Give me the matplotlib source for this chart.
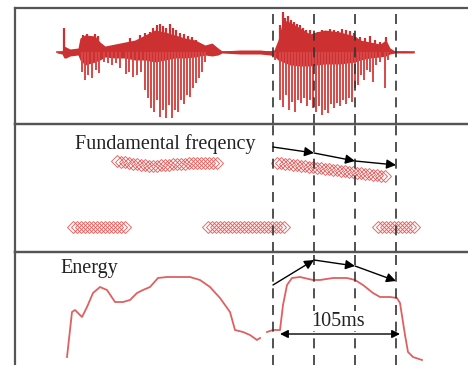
import numpy as np
import matplotlib
matplotlib.use('Agg')
import matplotlib.pyplot as plt

plt.rcParams['font.family'] = ['Liberation Serif', 'DejaVu Serif']

# x positions are analysis frames (same scale in all three panels)
# --- waveform: body envelope and individual peaks ---
body_x = [57, 62, 64, 66, 70, 78, 80, 85, 95, 100, 105, 115, 125, 135, 145, 155, 165, 175,
          185, 195, 205, 212, 218, 222, 240, 260, 270, 274, 278, 283, 290, 300, 310, 316,
          325, 340, 355, 360, 370, 380, 386, 390, 395, 405, 414]
body_hi = [0, 1, 6, 5, 3, 4, 14, 17, 16, 10, 6, 8, 10, 12, 17, 22, 20, 17,
           14, 12, 7, 9, 4, 1, 2, 2, 1, 2, 12, 32, 30, 24, 18, 20,
           22, 20, 16, 12, 10, 8, 12, 4, 1, 1, 0]
body_lo = [-1, -2, -6, -6, -4, -3, -8, -13, -10, -8, -5, -6, -6, -8, -8, -10, -8, -6,
           -6, -5, -3, -4, -3, -1, -2, -2, -3, -4, -8, -10, -13, -14, -14, -13,
           -12, -12, -10, -8, -6, -5, -4, -2, -1, -1, -1]

peak_dn_x = [82, 85, 88, 92, 96, 99, 104, 108, 112, 116, 120, 126, 129, 133, 137, 141,
             145, 148, 151, 154, 157, 160, 163, 166, 169, 172, 175, 178, 181, 184, 187,
             190, 193, 196, 199, 202, 205,
             275, 280, 283, 286, 289, 292, 295, 298, 301, 304, 307, 310, 313, 316, 319,
             322, 325, 328, 331, 334, 337, 340, 343, 346, 349, 352, 355, 358, 361, 364,
             367, 370, 373, 376, 380, 385, 388]
peak_dn = [-20, -28, -23, -26, -18, -21, -10, -11, -13, -11, -16, -22, -20, -25, -23, -20,
           -38, -46, -56, -60, -48, -65, -58, -66, -53, -66, -58, -60, -48, -52, -43,
           -45, -36, -31, -26, -20, -10,
           -8, -48, -55, -43, -58, -50, -60, -48, -51, -46, -54, -48, -56, -60, -54,
           -63, -58, -61, -52, -56, -51, -54, -48, -52, -46, -50, -36, -33, -23, -28,
           -18, -20, -30, -13, -10, -36, -8]
peak_up_x = [64, 83, 87, 91, 95, 98, 130, 140, 145, 150, 153, 157, 160, 163, 166, 170,
             173, 176, 180, 184, 188, 192, 196, 201,
             280, 283, 285, 288, 291, 294, 297, 300, 303, 306, 310, 315, 318, 322, 326,
             330, 334, 338, 342, 346, 350, 354, 360, 365, 370, 375, 380, 386]
peak_up = [24, 17, 18, 16, 18, 16, 14, 17, 19, 20, 24, 27, 28, 26, 24, 28,
           24, 22, 19, 18, 16, 15, 12, 8,
           27, 40, 34, 36, 32, 30, 28, 27, 24, 22, 22, 19, 20, 22, 21,
           23, 22, 21, 23, 22, 21, 19, 15, 14, 16, 12, 10, 15]

# --- fundamental frequency tracks ---
f0_a_x = list(range(117, 218, 4))
f0_a = [91, 90, 90, 89, 88, 88, 87, 87, 86, 86, 86, 87, 87, 87, 88, 88, 88, 88, 89,
        89, 89, 89, 89, 89, 89, 89]
f0_b_x = list(range(277, 386, 4))
f0_b = [89, 89, 88, 88, 87, 87, 86, 86, 85, 85, 84, 84, 83, 83, 82, 82, 81, 81, 80,
        80, 79, 79, 78, 78, 77, 77, 76, 76]
f0_low_x = list(range(73, 126, 4)) + list(range(208, 285, 4)) + list(range(378, 415, 4))
f0_low = [25] * 14 + [25] * 20 + [25] * 10

# --- energy contour ---
en1_x = [67, 72, 75, 78, 82, 87, 93, 100, 107, 115, 123, 130, 137, 143, 150, 158, 167,
         190, 200, 210, 220, 230, 235, 243, 250, 257, 260]
en1 = [8, 53, 55, 52, 48, 58, 72, 78, 75, 63, 63, 65, 72, 75, 78, 87, 88,
       88, 85, 78, 67, 53, 35, 33, 30, 25, 27]
en2_x = [267, 273, 280, 283, 287, 292, 300, 313, 320, 333, 347, 355, 363, 373, 380, 390,
         397, 400, 405, 408, 413, 422]
en2 = [33, 35, 35, 60, 80, 87, 88, 85, 85, 87, 87, 85, 80, 72, 68, 68,
       67, 62, 30, 13, 8, 5]

# syllable boundaries and trend arrows
bound_x = [273, 314, 355, 396]
f0_trend = [105, 99, 91, 87]
en_trend = [80, 105, 99, 84]
dur_x = [280, 400]
dur_y = 31
dur_label = '105ms'

W, H = 468, 365
fig = plt.figure(figsize=(W / 100, H / 100), dpi=100)
left = 15 / W
ax1 = fig.add_axes([left, (H - 124) / H, 1 - left, 116 / H])
ax2 = fig.add_axes([left, (H - 252) / H, 1 - left, 128 / H])
ax3 = fig.add_axes([left, 0, 1 - left, 113 / H])

edge = '#555555'
for ax in (ax1, ax2, ax3):
    ax.set_xlim(15, 468)
    ax.set_xticks([])
    ax.set_yticks([])
    ax.patch.set_alpha(0)
    for s in ax.spines.values():
        s.set_color(edge)
        s.set_linewidth(1.6)
    ax.spines['right'].set_visible(False)
ax3.spines['bottom'].set_visible(False)

ax1.set_ylim(-72, 44)
ax2.set_ylim(0, 128)
ax3.set_ylim(0, 113)

# waveform
red = '#cc3030'
ax1.plot([57, 414], [0, 0], color=red, lw=1.2)
ax1.fill_between(body_x, body_lo, body_hi, color=red, lw=0)
ax1.vlines(peak_up_x, 0, peak_up, color=red, lw=1.6)
ax1.vlines(peak_dn_x, 0, peak_dn, color='#d84848', lw=1.4)

# f0 tracks
mk = dict(ls='none', marker='D', ms=6, mfc='none', mec='#e05050', mew=0.7, alpha=0.85)
ax2.plot(f0_a_x, f0_a, **mk)
ax2.plot(f0_b_x, f0_b, **mk)
ax2.plot(f0_low_x, f0_low, **mk)
ax2.text(75, 108, 'Fundamental freqency', fontsize=14.5, color='#222222',
         ha='left', va='center')

# energy
ax3.plot(en1_x, en1, color='#e06060', lw=1.3)
ax3.plot(en2_x, en2, color='#e06060', lw=1.3)
ax3.text(60, 97, 'Energy', fontsize=14.5, color='#222222', ha='left', va='center')

# boundaries
for ax, top in ((ax1, 0.96), (ax2, 1), (ax3, 1)):
    for x in bound_x:
        ax.axvline(x, ymin=0, ymax=top, color='#333333', lw=1.2,
                   dashes=(6, 4), zorder=5)

# trend arrows
arr = dict(arrowstyle='-|>', color='black', lw=1.0, mutation_scale=14,
           shrinkA=0, shrinkB=0)
for ax, ys in ((ax2, f0_trend), (ax3, en_trend)):
    for i in range(len(bound_x) - 1):
        ax.annotate('', xy=(bound_x[i + 1], ys[i + 1]), xytext=(bound_x[i], ys[i]),
                    arrowprops=arr, zorder=6)

ax3.annotate('', xy=(dur_x[1], dur_y), xytext=(dur_x[0], dur_y),
             arrowprops=dict(arrowstyle='<|-|>', color='black', lw=1.0,
                             mutation_scale=12, shrinkA=0, shrinkB=0), zorder=6)
ax3.text(sum(dur_x) / 2 - 2, dur_y + 13, dur_label, fontsize=14.5, color='#222222',
         ha='center', va='center', zorder=7,
         bbox=dict(facecolor='white', edgecolor='none', pad=0.5))

fig.savefig('out.png', dpi=100)
